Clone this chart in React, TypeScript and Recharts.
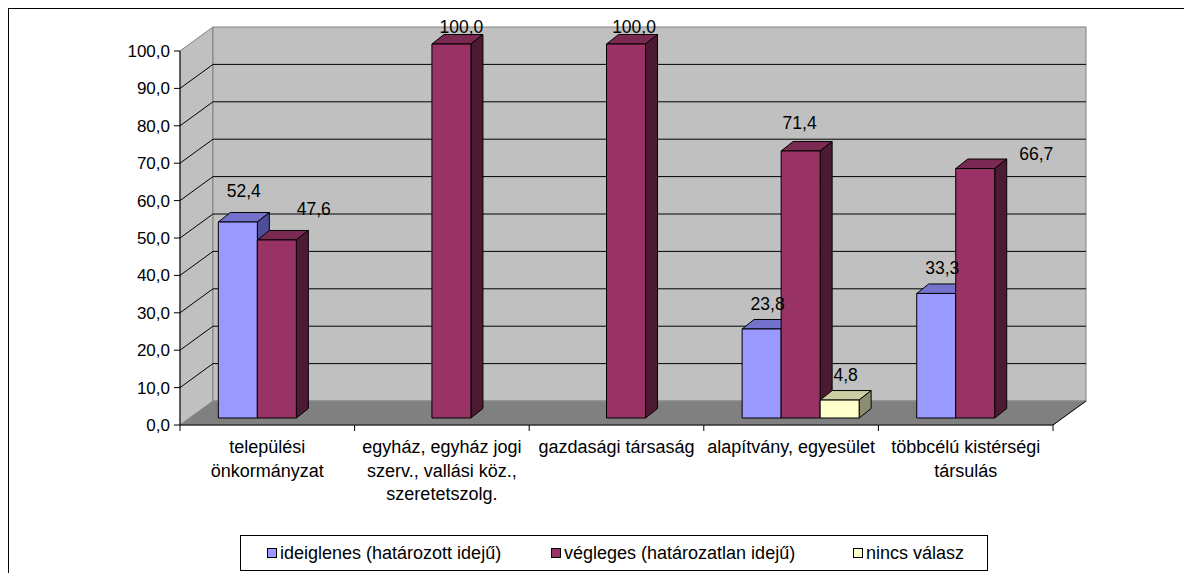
import { BarChart, Bar, XAxis, YAxis, CartesianGrid, Legend, LabelList } from "recharts"

const categories = [
  "települési önkormányzat",
  "egyház, egyház jogi szerv., vallási köz., szeretetszolg.",
  "gazdasági társaság",
  "alapítvány, egyesület",
  "többcélú kistérségi társulás",
]
const ideiglenes = [52.4, null, null, 23.8, 33.3]
const vegleges = [47.6, 100.0, 100.0, 71.4, 66.7]
const nincsValasz = [null, null, null, 4.8, null]
const yTicks = [0, 10, 20, 30, 40, 50, 60, 70, 80, 90, 100]

const SERIES = [
  { key: "ideiglenes", name: "ideiglenes (határozott idejű)", front: "#9999FF", top: "#7373CC", side: "#4D4D99" },
  { key: "vegleges", name: "végleges (határozatlan idejű)", front: "#993366", top: "#7A2952", side: "#4D1A33" },
  { key: "nincs", name: "nincs válasz", front: "#FFFFCC", top: "#CCCCA3", side: "#8C8C70" },
]

const data = categories.map((name, i) => ({
  name,
  ideiglenes: ideiglenes[i],
  vegleges: vegleges[i],
  nincs: nincsValasz[i],
}))

const FONT = '"Liberation Sans", Arial, sans-serif'
const W = 1183
const H = 564
const MARGIN = { top: 42, right: 139, bottom: 68, left: 111 }
const PLOT_W = W - MARGIN.left - MARGIN.right - 60

// 3D look: wall depth and bar depth
const WALL_DX = 33
const WALL_DY = -24
const BAR_SHIFT_X = 9
const BAR_SHIFT_Y = -7
const BAR_DX = 12
const BAR_DY = -9.5

// Excel places some value labels oddly; nudges from the bar's front-top centre
const LABEL_NUDGE: Record<string, [number, number]> = {
  "ideiglenes-0": [6, -31],
  "vegleges-0": [37, -31],
  "vegleges-1": [10, -17],
  "vegleges-2": [8, -17],
  "vegleges-3": [-1, -28],
  "vegleges-4": [61, -15],
  "ideiglenes-3": [-16, -23],
  "ideiglenes-4": [-11, -22],
  "nincs-3": [14, -17],
}

const fmt = (v: number) => v.toFixed(1).replace(".", ",")

const wrap = (s: string, max = 21) => {
  const words = s.split(" ")
  const lines: string[] = []
  let cur = ""
  words.forEach((w) => {
    const next = cur ? cur + " " + w : w
    if (next.length > max && cur) {
      lines.push(cur)
      cur = w
    } else cur = next
  })
  if (cur) lines.push(cur)
  return lines
}

const box3d = (s: (typeof SERIES)[number]) => (props: any) => {
  const { x, y, width, height } = props
  if (!width || !height || height <= 0) return <g />
  const fx = x + BAR_SHIFT_X
  const fy = y + BAR_SHIFT_Y
  const w = width
  const h = height
  return (
    <g stroke="#000" strokeWidth={1} strokeLinejoin="round">
      <polygon points={`${fx},${fy} ${fx + BAR_DX},${fy + BAR_DY} ${fx + w + BAR_DX},${fy + BAR_DY} ${fx + w},${fy}`} fill={s.top} />
      <polygon
        points={`${fx + w},${fy} ${fx + w + BAR_DX},${fy + BAR_DY} ${fx + w + BAR_DX},${fy + h + BAR_DY} ${fx + w},${fy + h}`}
        fill={s.side}
      />
      <rect x={fx} y={fy} width={w} height={h} fill={s.front} />
    </g>
  )
}

const valueLabel = (key: string) => (props: any) => {
  const { x, y, width, value, index } = props
  if (value == null) return null
  const [dx, dy] = LABEL_NUDGE[`${key}-${index}`] || [6, -25]
  const cx = x + BAR_SHIFT_X + width / 2 + dx
  const cy = y + BAR_SHIFT_Y + dy
  return (
    <text x={cx} y={cy + 6} textAnchor="middle" fontFamily={FONT} fontSize={17.5} fill="#000">
      {fmt(value)}
    </text>
  )
}

const gridLine = (props: any) => {
  const { x1, x2, y1, index } = props
  const top = props.y ?? MARGIN.top
  const left = props.x ?? MARGIN.left + 60
  const width = props.width ?? PLOT_W
  const height = props.height ?? H - MARGIN.top - MARGIN.bottom - 80
  const bottom = top + height
  const right = left + width
  const edge = Math.abs(y1 - top) < 0.5 || Math.abs(y1 - bottom) < 0.5
  return (
    <g key={`grid-${index}`}>
      {index === 0 && (
        <g>
          <polygon
            points={`${left},${top} ${left + WALL_DX},${top + WALL_DY} ${left + WALL_DX},${bottom + WALL_DY} ${left},${bottom}`}
            fill="#C0C0C0"
            stroke="#808080"
          />
          <rect x={left + WALL_DX} y={top + WALL_DY} width={width} height={height} fill="#C0C0C0" stroke="#808080" />
          <polygon
            points={`${left},${bottom} ${right},${bottom} ${right + WALL_DX},${bottom + WALL_DY} ${left + WALL_DX},${bottom + WALL_DY}`}
            fill="#808080"
            stroke="#8C8C8C"
          />
          <line x1={right} y1={bottom} x2={right + WALL_DX} y2={bottom + WALL_DY} stroke="#000" />
        </g>
      )}
      {!edge && (
        <g stroke="#000" strokeWidth={1}>
          <line x1={x1} y1={y1} x2={x1 + WALL_DX} y2={y1 + WALL_DY} />
          <line x1={x1 + WALL_DX} y1={y1 + WALL_DY} x2={x2 + WALL_DX} y2={y1 + WALL_DY} />
        </g>
      )}
    </g>
  )
}

const YTick = (props: any) => {
  const { x, y, payload } = props
  return (
    <g>
      <line x1={x - 6} y1={y} x2={x} y2={y} stroke="#000" />
      <text x={x - 10} y={y + 6} textAnchor="end" fontFamily={FONT} fontSize={17} fill="#000">
        {fmt(payload.value)}
      </text>
    </g>
  )
}

const XTick = (props: any) => {
  const { x, y, payload, index } = props
  const half = typeof payload.offset === "number" && payload.offset > 0 ? payload.offset : PLOT_W / categories.length / 2
  const lines = wrap(payload.value)
  return (
    <g>
      <line x1={x - half} y1={y} x2={x - half} y2={y + 6} stroke="#000" />
      {index === categories.length - 1 && <line x1={x + half} y1={y} x2={x + half} y2={y + 6} stroke="#000" />}
      <text textAnchor="middle" fontFamily={FONT} fontSize={18} fill="#000">
        {lines.map((l, i) => (
          <tspan key={i} x={x} y={y + 28 + i * 23.7}>
            {l}
          </tspan>
        ))}
      </text>
    </g>
  )
}

const LEGEND_X = [26, 310, 612]

const renderLegend = () => (
  <div
    style={{
      position: "relative",
      boxSizing: "border-box",
      width: 748,
      height: 36,
      border: "1px solid #000",
      background: "#fff",
      fontFamily: FONT,
      fontSize: 18,
      color: "#000",
    }}
  >
    {SERIES.map((s, i) => (
      <div key={s.key} style={{ position: "absolute", left: LEGEND_X[i], top: 0, height: 34, display: "flex", alignItems: "center", whiteSpace: "nowrap" }}>
        <span style={{ display: "inline-block", boxSizing: "border-box", width: 10, height: 10, border: "1px solid #000", background: s.front, marginRight: 3 }} />
        <span>{s.name}</span>
      </div>
    ))}
  </div>
)

export default function App() {
  return (
    <div
      style={{
        position: "relative",
        width: 1184,
        height: 565,
        boxSizing: "border-box",
        borderLeft: "1px solid #000",
        borderTop: "1px solid #000",
      }}
    >
      <div style={{ position: "absolute", left: 0, top: 0 }}>
        <BarChart width={W} height={H} data={data} margin={MARGIN} barCategoryGap="16.8%" barGap={0}>
          <CartesianGrid vertical={false} horizontal={gridLine} />
          <XAxis dataKey="name" axisLine={{ stroke: "#000" }} tickLine={false} tickSize={0} tickMargin={0} interval={0} height={80} tick={<XTick />} />
          <YAxis
            domain={[0, 100]}
            ticks={yTicks}
            interval={0}
            width={60}
            axisLine={{ stroke: "#000" }}
            tickLine={false}
            tickSize={0}
            tickMargin={0}
            tick={<YTick />}
          />
          {SERIES.map((s) => (
            <Bar key={s.key} dataKey={s.key} name={s.name} fill={s.front} shape={box3d(s)} isAnimationActive={false}>
              <LabelList dataKey={s.key} content={valueLabel(s.key)} />
            </Bar>
          ))}
          <Legend layout="horizontal" verticalAlign="middle" align="center" wrapperStyle={{ left: 231, top: 526, width: 748, height: 36 }} content={renderLegend} />
        </BarChart>
      </div>
    </div>
  )
}
